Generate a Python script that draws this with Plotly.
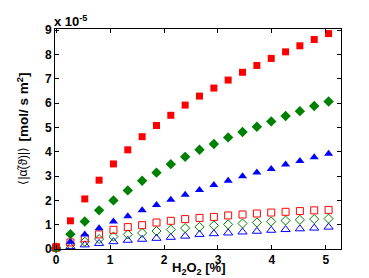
import plotly.graph_objects as go

x = [0, 0.266, 0.532, 0.797, 1.063, 1.329, 1.595, 1.861, 2.126, 2.392,
     2.658, 2.924, 3.189, 3.455, 3.721, 3.987, 4.253, 4.518, 4.784, 5.05]

red_filled = [0.1, 1.16, 2.06, 2.83, 3.5, 4.08, 4.62, 5.08, 5.5, 5.92,
              6.29, 6.62, 6.95, 7.27, 7.55, 7.84, 8.11, 8.36, 8.62, 8.86]
green_filled = [0.05, 0.61, 1.13, 1.59, 2.0, 2.41, 2.81, 3.14, 3.49, 3.79,
                4.08, 4.32, 4.59, 4.81, 5.03, 5.25, 5.47, 5.67, 5.88, 6.07]
blue_filled = [0.07, 0.3, 0.6, 0.85, 1.13, 1.35, 1.59, 1.81, 2.03, 2.23,
               2.43, 2.63, 2.81, 2.99, 3.15, 3.29, 3.48, 3.62, 3.77, 3.92]
red_open = [0.05, 0.27, 0.44, 0.6, 0.79, 0.9, 0.98, 1.09, 1.16, 1.23,
            1.28, 1.32, 1.38, 1.42, 1.46, 1.5, 1.53, 1.56, 1.59, 1.61]
green_open = [0.03, 0.17, 0.3, 0.41, 0.51, 0.6, 0.66, 0.74, 0.8, 0.86,
              0.91, 0.97, 1.01, 1.05, 1.09, 1.13, 1.17, 1.2, 1.23, 1.25]
blue_open = [0.02, 0.1, 0.17, 0.23, 0.3, 0.36, 0.4, 0.44, 0.48, 0.53,
             0.6, 0.63, 0.66, 0.7, 0.73, 0.77, 0.8, 0.83, 0.86, 0.9]

x_ticks = [0, 1, 2, 3, 4, 5]
y_ticks = [0, 1, 2, 3, 4, 5, 6, 7, 8, 9]

RED = "#ff0000"
GREEN = "#008000"
BLUE = "#0000ff"

fig = go.Figure()

def add(yv, sym, color, size, open_=False):
    if open_:
        marker = dict(symbol=sym + "-open", size=size, color=color, line=dict(width=1, color=color))
    else:
        marker = dict(symbol=sym, size=size, color=color, line=dict(width=0))
    fig.add_trace(go.Scatter(x=x, y=yv, mode="markers", marker=marker, showlegend=False,
                             cliponaxis=False))

add(blue_open, "triangle-up", BLUE, 8, True)
add(green_open, "diamond", GREEN, 7, True)
add(red_open, "square", RED, 7, True)
add(blue_filled, "triangle-up", BLUE, 8)
add(green_filled, "diamond", GREEN, 8)
add(red_filled, "square", RED, 7)

FAM = "Liberation Sans, Arial, sans-serif"

axis_common = dict(
    showline=True, linecolor="black", linewidth=1, mirror="ticks",
    ticks="inside", ticklen=4, tickcolor="black", tickwidth=1,
    showgrid=False, zeroline=False,
    tickfont=dict(family=FAM, size=12, color="black", weight="bold"),
)

fig.update_layout(
    width=369, height=278,
    margin=dict(l=47, r=36, t=21, b=37),
    plot_bgcolor="white", paper_bgcolor="white",
    font=dict(family=FAM, size=12, color="black"),
    xaxis=dict(range=[-0.02, 5.28], tickvals=x_ticks, ticktext=[str(v) for v in x_ticks], **axis_common),
    yaxis=dict(range=[0, 9.05], tickvals=y_ticks, ticktext=[str(v) for v in y_ticks], **axis_common),
)

fig.add_annotation(
    x=0.0, y=1.0, xref="paper", yref="paper", xanchor="left", yanchor="bottom",
    text="<b>x 10<sup>-5</sup></b>", showarrow=False, xshift=-3, yshift=-2,
    font=dict(family=FAM, size=13, color="black"),
)
fig.add_annotation(
    x=0.5, y=-0.1, xref="paper", yref="paper", xanchor="center", yanchor="middle",
    text="<b>H<sub>2</sub>O<sub>2</sub> [%]</b>", showarrow=False, yshift=3,
    font=dict(family=FAM, size=13, color="black"),
)
fig.add_annotation(
    x=-0.115, y=(241 - 99.5) / 220, xref="paper", yref="paper", xanchor="center", yanchor="middle",
    textangle=-90,
    text="<b>[mol/ s m<sup>2</sup>]</b>", showarrow=False,
    font=dict(family=FAM, size=13.5, color="black"),
)
fig.add_annotation(
    x=-0.115, y=(241 - 157.5) / 220, xref="paper", yref="paper", xanchor="center", yanchor="middle",
    textangle=-90,
    text="⟨|α̃(ϑ)|⟩", showarrow=False,
    font=dict(family=FAM, size=12, color="black"),
)

fig.write_html("out.html")
